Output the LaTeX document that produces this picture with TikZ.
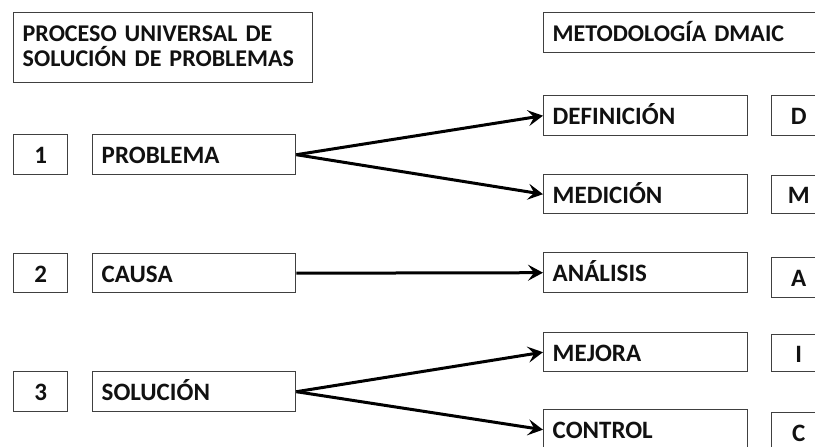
\documentclass[tikz,border=0pt]{standalone}
\usepackage{fontspec}
\setmainfont{Carlito}
\usetikzlibrary{arrows.meta}
\definecolor{bordercol}{HTML}{404040}
\definecolor{txtcol}{HTML}{111111}
\begin{document}
\begin{tikzpicture}[x=1pt,y=-1pt,
  box/.style={draw=bordercol, line width=1.4pt, anchor=north west, inner xsep=9pt, inner ysep=0pt,
    minimum height=40pt, text height=23pt, text depth=5pt, text=txtcol,
    font=\fontsize{25}{27}\selectfont\bfseries, align=left},
  nbox/.style={box, minimum width=54pt, align=center},
  conn/.style={line width=3pt, -{Stealth[length=15pt,width=16pt,inset=6pt]}}
  ]
\useasboundingbox (0,0) rectangle (815,447);
\clip (0,0) rectangle (815,447);
\fill[white] (0,0) rectangle (815,447);
% titles
\node[box, minimum height=70pt, text width=281pt, text height=22pt, text depth=34pt,
  font=\fontsize{24}{25}\selectfont\bfseries] (t1) at (13,12)
  {\mbox{PROCESO UNIVERSAL DE}\\\mbox{SOLUCIÓN DE PROBLEMAS}};
\node[box, text width=282pt, font=\fontsize{24}{26}\selectfont\bfseries] (t2) at (543,12) {METODOLOGÍA DMAIC};
% left column
\node[nbox] (n1) at (13,134) {1};
\node[box, text width=185pt] (prob) at (92,134) {PROBLEMA};
\node[nbox, minimum height=39pt] (n2) at (13,253) {2};
\node[box, text width=185pt, minimum height=39pt] (causa) at (92,253) {CAUSA};
\node[nbox] (n3) at (13,371) {3};
\node[box, text width=185pt] (sol) at (92,371) {SOLUCIÓN};
% right column
\node[box, text width=186pt] (def) at (543,95) {DEFINICIÓN};
\node[nbox] (ld) at (771,95) {D};
\node[box, text width=186pt, minimum height=39pt] (med) at (543,174) {MEDICIÓN};
\node[nbox, minimum height=38pt] (lm) at (771,175) {M};
\node[box, text width=186pt] (ana) at (543,252) {ANÁLISIS};
\node[nbox] (la) at (771,257) {A};
\node[box, text width=186pt, minimum height=39pt] (mej) at (543,332) {MEJORA};
\node[nbox, minimum height=37pt] (li) at (771,334) {I};
\node[box, text width=186pt] (con) at (543,409) {CONTROL};
\node[nbox] (lc) at (771,412) {C};
% connectors
\draw[conn] (prob.east) -- (def.west);
\draw[conn] (prob.east) -- (med.west);
\draw[conn] (causa.east) -- (ana.west);
\draw[conn] (sol.east) -- (mej.west);
\draw[conn] (sol.east) -- (con.west);
\end{tikzpicture}
\end{document}
